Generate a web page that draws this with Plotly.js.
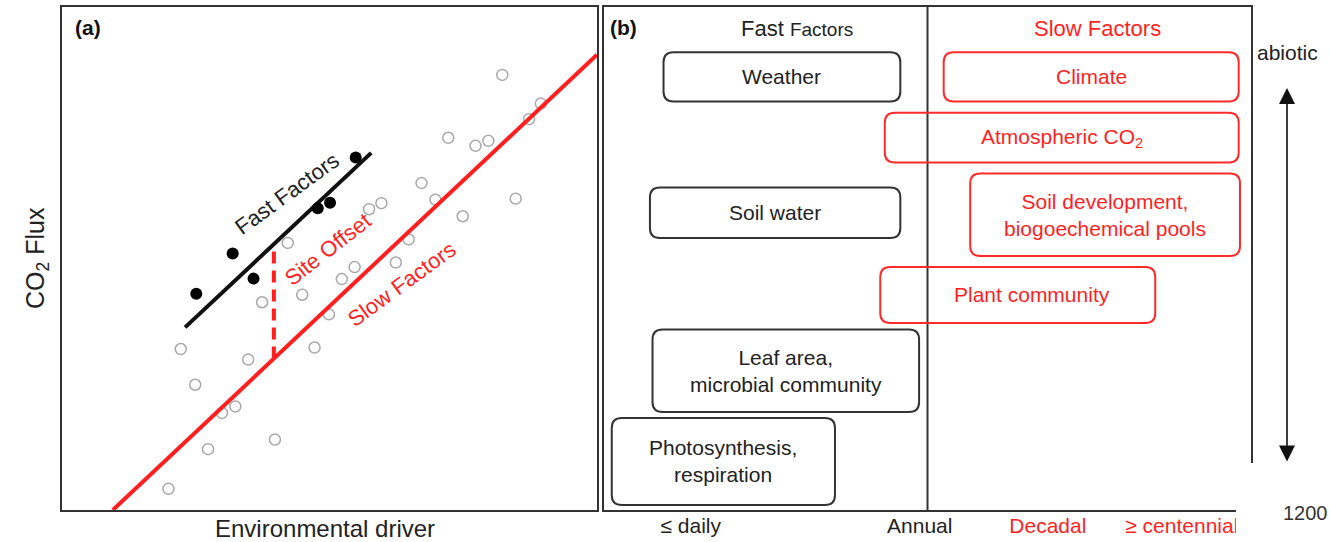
<!DOCTYPE html>
<html>
<head>
<meta charset="utf-8">
<script src="https://cdn.plot.ly/plotly-3.0.1.min.js"></script>
<style>
  html, body { margin: 0; padding: 0; background: #ffffff; }
  #chart { width: 1330px; height: 542px; }
</style>
</head>
<body>
<div id="chart"></div>
<script>
// ---- Panel (a): CO2 flux vs environmental driver (relative units 0-10) ----
const siteObsX = [8.23, 8.95, 8.73, 7.22, 7.73, 7.97, 6.72, 8.48, 6.98, 5.97, 5.74, 7.49, 6.48, 4.22, 6.24,
                  5.47, 5.23, 4.49, 3.74, 4.99, 2.22, 4.72, 3.48, 2.49, 3.24, 2.99, 3.98, 2.73, 1.99];
const siteObsY = [8.65, 8.08, 7.77, 7.40, 7.24, 7.34, 6.50, 6.19, 6.17, 6.10, 5.98, 5.84, 5.38, 5.31, 4.92,
                  4.83, 4.59, 4.28, 4.13, 3.89, 3.20, 3.23, 2.99, 2.49, 2.06, 1.93, 1.40, 1.21, 0.42];
const fastObsX = [5.49, 4.78, 5.01, 3.19, 3.58, 2.51];
const fastObsY = [7.01, 6.00, 6.11, 5.10, 4.60, 4.30];
const fastFitX = [2.30, 5.78];
const fastFitY = [3.63, 7.10];
const slowFitX = [0.95, 10.0];
const slowFitY = [0.00, 9.05];
const siteOffsetX = 3.96;

// ---- Panel (b): timescale of controlling factors (x: timescale 0-100, y: abiotic-biotic 0-100) ----
const factorNames = ['Weather', 'Climate', 'Atmospheric CO<sub>2</sub>', 'Soil water',
                     'Soil development,<br>biogoechemical pools', 'Plant community',
                     'Leaf area,<br>microbial community', 'Photosynthesis,<br>respiration'];
const factorKind  = ['fast', 'slow', 'slow', 'fast', 'slow', 'slow', 'fast', 'fast'];
const factorStart = [9.2, 52.5, 43.4, 7.1, 56.6, 42.7, 7.5, 1.2];
const factorEnd   = [45.8, 98.1, 98.1, 45.8, 98.3, 85.2, 48.7, 35.7];
const factorLow   = [81.2, 81.2, 69.1, 54.1, 50.5, 37.2, 19.5, 1.0];
const factorHigh  = [91.0, 91.0, 79.0, 64.1, 66.9, 48.3, 35.9, 18.3];
const annualBoundary = 50;
const timeTickVals = [13.4, 48.8, 68.6, 89.3];
const timeTickText = ['≤ daily', 'Annual', 'Decadal', '≥ centennial'];
const timeTickKind = ['fast', 'fast', 'slow', 'slow'];

// ---- styling ----
const FONT = 'Liberation Sans, Arial, Helvetica, sans-serif';
const INK = '#222222';
const FRAME = '#333333';
const RED = '#ff1f1f';
const W = 1330, H = 542;
const M = { l: 62, r: 79, t: 7, b: 32 };
const plotW = W - M.l - M.r;   // 1189
const plotH = H - M.t - M.b;   // 503
const panelAWidth = 535, panelBLeft = 542;
const domA = [0, panelAWidth / plotW];
const domB = [panelBLeft / plotW, 1];
const panelBWidthPx = plotW - panelBLeft;

function paperX(px) { return (px - M.l) / plotW; }
function paperY(py) { return (M.t + plotH - py) / plotH; }

function lineAt(xs, ys, x) {
  return ys[0] + (x - xs[0]) * (ys[1] - ys[0]) / (xs[1] - xs[0]);
}

const traces = [
  {
    x: siteObsX, y: siteObsY, xaxis: 'x', yaxis: 'y', type: 'scatter', mode: 'markers',
    marker: { symbol: 'circle-open', size: 11, color: '#a8a8a8', line: { width: 1.5, color: '#a8a8a8' } },
    hoverinfo: 'skip'
  },
  {
    x: slowFitX, y: slowFitY, xaxis: 'x', yaxis: 'y', type: 'scatter', mode: 'lines',
    line: { color: RED, width: 4 }, hoverinfo: 'skip'
  },
  {
    x: [siteOffsetX, siteOffsetX],
    y: [lineAt(slowFitX, slowFitY, siteOffsetX), lineAt(fastFitX, fastFitY, siteOffsetX)],
    xaxis: 'x', yaxis: 'y', type: 'scatter', mode: 'lines',
    line: { color: RED, width: 4, dash: '12px,7px' }, hoverinfo: 'skip'
  },
  {
    x: fastFitX, y: fastFitY, xaxis: 'x', yaxis: 'y', type: 'scatter', mode: 'lines',
    line: { color: '#111111', width: 4 }, hoverinfo: 'skip'
  },
  {
    x: fastObsX, y: fastObsY, xaxis: 'x', yaxis: 'y', type: 'scatter', mode: 'markers',
    marker: { symbol: 'circle', size: 12, color: '#000000' }, hoverinfo: 'skip'
  }
];

// rounded factor boxes built in panel (b) data units
const radiusPx = 10;
const rx = radiusPx * 100 / panelBWidthPx;
const ry = radiusPx * 100 / plotH;
function roundedPath(x0, x1, y0, y1) {
  return 'M' + (x0 + rx) + ',' + y0 +
         ' L' + (x1 - rx) + ',' + y0 + ' Q' + x1 + ',' + y0 + ' ' + x1 + ',' + (y0 + ry) +
         ' L' + x1 + ',' + (y1 - ry) + ' Q' + x1 + ',' + y1 + ' ' + (x1 - rx) + ',' + y1 +
         ' L' + (x0 + rx) + ',' + y1 + ' Q' + x0 + ',' + y1 + ' ' + x0 + ',' + (y1 - ry) +
         ' L' + x0 + ',' + (y0 + ry) + ' Q' + x0 + ',' + y0 + ' ' + (x0 + rx) + ',' + y0 + ' Z';
}

const shapes = [
  {
    type: 'line', xref: 'x2', yref: 'y2', x0: annualBoundary, x1: annualBoundary, y0: 0, y1: 100,
    line: { color: FRAME, width: 2 }
  }
];
const annotations = [];

function note(opts) {
  annotations.push(Object.assign({ showarrow: false, xanchor: 'center', yanchor: 'middle' }, opts));
}

factorNames.forEach((name, i) => {
  const slow = factorKind[i] === 'slow';
  shapes.push({
    type: 'path', xref: 'x2', yref: 'y2',
    path: roundedPath(factorStart[i], factorEnd[i], factorLow[i], factorHigh[i]),
    line: { color: slow ? '#ff2b2b' : FRAME, width: 2 },
    fillcolor: 'rgba(0,0,0,0)'
  });
  note({
    xref: 'x2', yref: 'y2',
    x: (factorStart[i] + factorEnd[i]) / 2, y: (factorLow[i] + factorHigh[i]) / 2,
    xshift: name === 'Plant community' ? 14 : 0,
    text: name, align: 'center',
    font: { family: FONT, size: 21, color: slow ? RED : INK }
  });
});

// white patch over the lower-right corner
shapes.push({
  type: 'rect', xref: 'paper', yref: 'paper', layer: 'above',
  x0: paperX(1236), x1: paperX(1335), y0: paperY(547), y1: paperY(463),
  fillcolor: '#ffffff', line: { width: 0 }
});

note({ xref: 'paper', yref: 'paper', x: paperX(88), y: paperY(28),
       text: '<b>(a)</b>', font: { family: FONT, size: 21, color: '#111111' } });
note({ xref: 'paper', yref: 'paper', x: paperX(37), y: paperY(258), textangle: -90,
       text: 'CO<sub>2</sub> Flux', font: { family: FONT, size: 25, color: INK } });
note({ xref: 'paper', yref: 'paper', x: paperX(325), y: paperY(528),
       text: 'Environmental driver', font: { family: FONT, size: 24, color: INK } });
note({ xref: 'x', yref: 'y', x: 4.21, y: 6.29, textangle: -36,
       text: 'Fast Factors', font: { family: FONT, size: 22, color: INK } });
note({ xref: 'x', yref: 'y', x: 4.97, y: 5.17, textangle: -38,
       text: 'Site Offset', font: { family: FONT, size: 22, color: RED } });
note({ xref: 'x', yref: 'y', x: 6.34, y: 4.49, textangle: -36,
       text: 'Slow Factors', font: { family: FONT, size: 22, color: RED } });
note({ xref: 'paper', yref: 'paper', x: paperX(623), y: paperY(28),
       text: '<b>(b)</b>', font: { family: FONT, size: 21, color: '#111111' } });
note({ xref: 'x2', yref: 'y2', x: 29.8, y: 95.8,
       text: 'Fast <span style="font-size:19px">Factors</span>', font: { family: FONT, size: 22, color: INK } });
note({ xref: 'x2', yref: 'y2', x: 76.2, y: 95.8,
       text: 'Slow Factors', font: { family: FONT, size: 22, color: RED } });
note({ xref: 'paper', yref: 'paper', x: paperX(1255), y: paperY(52), xanchor: 'left',
       text: 'abiotic', font: { family: FONT, size: 21, color: INK } });
note({ xref: 'paper', yref: 'paper', x: paperX(1281), y: paperY(513), xanchor: 'left',
       text: '1200', font: { family: FONT, size: 20, color: FRAME } });
// abiotic-biotic gradient arrow
annotations.push({
  xref: 'paper', yref: 'paper', x: paperX(1287), y: paperY(88), showarrow: true, text: '',
  ax: 0, ay: 463 - 88, axref: 'pixel', ayref: 'pixel', arrowside: 'end+start',
  arrowhead: 2, startarrowhead: 2, arrowsize: 2, startarrowsize: 2, arrowwidth: 1.6,
  arrowcolor: '#111111', standoff: 0, startstandoff: 0
});

const baseAxis = {
  showgrid: false, zeroline: false, showline: true, mirror: true,
  linecolor: FRAME, linewidth: 2, ticks: '', fixedrange: true
};

const layout = {
  width: W, height: H,
  margin: M,
  paper_bgcolor: '#ffffff', plot_bgcolor: '#ffffff',
  showlegend: false, hovermode: false,
  font: { family: FONT, color: INK },
  xaxis: Object.assign({}, baseAxis, { domain: domA, range: [0, 10], showticklabels: false, anchor: 'y' }),
  yaxis: Object.assign({}, baseAxis, { domain: [0, 1], range: [0, 10], showticklabels: false, anchor: 'x' }),
  xaxis2: Object.assign({}, baseAxis, {
    domain: domB, range: [0, 100], anchor: 'y2',
    tickmode: 'array', tickvals: timeTickVals,
    ticktext: timeTickText.map((t, i) => timeTickKind[i] === 'slow'
      ? '<span style="color:' + RED + '">' + t + '</span>' : t),
    tickfont: { family: FONT, size: 21, color: INK }, ticklabelstandoff: -4
  }),
  yaxis2: Object.assign({}, baseAxis, { domain: [0, 1], range: [0, 100], showticklabels: false, anchor: 'x2' }),
  shapes: shapes,
  annotations: annotations
};

Plotly.newPlot('chart', traces, layout, { displayModeBar: false, staticPlot: true });
</script>
</body>
</html>
